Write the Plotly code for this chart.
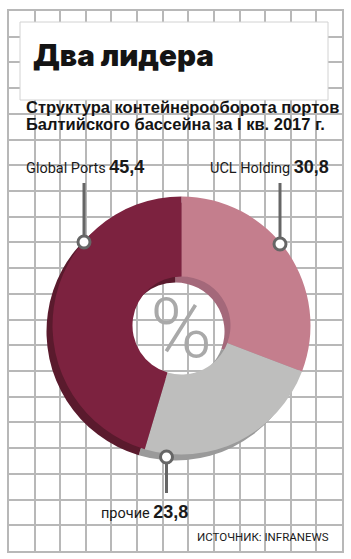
import plotly.graph_objects as go

# ---- data ----
labels = ["UCL Holding", "прочие", "Global Ports"]   # clockwise from 12 o'clock
values = [30.8, 23.8, 45.4]
colors = ["#C47E8D", "#BEBEBD", "#7C223F"]
shadow_colors = ["#A4687A", "#9A9A9A", "#5A1A2D"]

title_text = "Два лидера"
subtitle_lines = ["Структура контейнерооборота портов",
                  "Балтийского бассейна за I кв. 2017 г."]
source_text = "ИСТОЧНИК: INFRANEWS"
center_text = "%"

W, H = 351, 559


def px(x):
    return x / W


def py(y):
    return 1 - y / H


def fmt(v):
    return f"{v:.1f}".replace(".", ",")


NARROW = "Roboto, DejaVu Sans Condensed, sans-serif"
BOLD = "Liberation Sans, Arial, sans-serif"

fig = go.Figure()

# invisible trace so the cartesian grid (background) is drawn
fig.add_trace(go.Scatter(x=[None], y=[None], mode="markers", showlegend=False, hoverinfo="skip"))

# pie geometry (pixels)
cx, cy, r = 181.5, 325.5, 129
sdx, sdy = -6, 6
hole = 0.38


def dom(cx_, cy_):
    return dict(x=[px(cx_ - r), px(cx_ + r)], y=[py(cy_ + r), py(cy_ - r)])


# shadow / 3D edge
fig.add_trace(go.Pie(labels=labels, values=values, sort=False, direction="clockwise",
                     rotation=0, hole=hole, marker=dict(colors=shadow_colors, line=dict(width=0)),
                     textinfo="none", hoverinfo="skip", showlegend=False,
                     domain=dom(cx + sdx, cy + sdy)))
# main donut
fig.add_trace(go.Pie(labels=labels, values=values, sort=False, direction="clockwise",
                     rotation=0, hole=hole, marker=dict(colors=colors, line=dict(width=0)),
                     textinfo="none", showlegend=False,
                     domain=dom(cx, cy)))

grid_color = "#B8B8B8"
fig.update_layout(
    width=W, height=H, margin=dict(l=0, r=0, t=0, b=0),
    paper_bgcolor="white", plot_bgcolor="white", showlegend=False,
    xaxis=dict(domain=[px(9), px(342)], range=[0, 13], tick0=0, dtick=1,
               showgrid=True, gridcolor=grid_color, gridwidth=1.5,
               showline=True, linecolor=grid_color, linewidth=1.5, mirror=True,
               showticklabels=False, ticks="", zeroline=False, fixedrange=True),
    yaxis=dict(domain=[py(551), py(11)], range=[0, 21], tick0=0, dtick=1,
               showgrid=True, gridcolor=grid_color, gridwidth=1.5,
               showline=True, linecolor=grid_color, linewidth=1.5, mirror=True,
               showticklabels=False, ticks="", zeroline=False, fixedrange=True),
)

shapes = []
# title box
shapes.append(dict(type="rect", xref="paper", yref="paper", x0=px(20), x1=px(328),
                   y0=py(100), y1=py(22), fillcolor="white",
                   line=dict(color="#D2D2D2", width=1), layer="above"))

# callouts: (x, y_circle, y_end)
line_col = "#666666"
callouts = [(84, 242, 183), (280, 244, 183), (166.5, 457, 493)]
for (x, yc, ye) in callouts:
    shapes.append(dict(type="line", xref="paper", yref="paper", x0=px(x), x1=px(x),
                       y0=py(yc), y1=py(ye), line=dict(color=line_col, width=3), layer="above"))
for (x, yc, ye) in callouts:
    rr = 6
    shapes.append(dict(type="circle", xref="paper", yref="paper",
                       x0=px(x - rr), x1=px(x + rr), y0=py(yc + rr), y1=py(yc - rr),
                       fillcolor="white", line=dict(color=line_col, width=3), layer="above"))
fig.update_layout(shapes=shapes)

ann = []
ann.append(dict(text=title_text, x=px(31), y=py(55), xref="paper", yref="paper",
                xanchor="left", yanchor="middle", showarrow=False,
                font=dict(family="Inter, Roboto, DejaVu Sans", size=29.5, color="#141414", weight=900)))
for i, t in enumerate(subtitle_lines):
    ann.append(dict(text=f"<b>{t}</b>", x=px(24), y=py(107 + 17 * i), xref="paper", yref="paper",
                    xanchor="left", yanchor="middle", showarrow=False,
                    font=dict(family=BOLD, size=16.5, color="#141414")))


def label(name, val):
    return (f"{name} <b><span style='font-family:Liberation Sans, Arial, sans-serif;font-size:18px'>"
            f"{fmt(val)}</span></b>")


lab = dict(zip(labels, values))
LFONT = dict(family=NARROW, size=14.5, color="#1A1A1A")
ann.append(dict(text=label("Global Ports", lab["Global Ports"]), x=px(24), y=py(167),
                xref="paper", yref="paper", xanchor="left", yanchor="middle", showarrow=False,
                font=LFONT))
ann.append(dict(text=label("UCL Holding", lab["UCL Holding"]), x=px(331), y=py(167),
                xref="paper", yref="paper", xanchor="right", yanchor="middle", showarrow=False,
                font=LFONT))
ann.append(dict(text=label("прочие", lab["прочие"]), x=px(144), y=py(512),
                xref="paper", yref="paper", xanchor="center", yanchor="middle", showarrow=False,
                font=LFONT))
ann.append(dict(text=source_text, x=px(331), y=py(537),
                xref="paper", yref="paper", xanchor="right", yanchor="middle", showarrow=False,
                font=dict(family=NARROW, size=11.5, color="#1A1A1A")))
ann.append(dict(text=center_text, x=px(181), y=py(328),
                xref="paper", yref="paper", xanchor="center", yanchor="middle", showarrow=False,
                font=dict(family="Roboto, Open Sans, sans-serif", size=84, color="#A9A9A9", weight=300)))
fig.update_layout(annotations=ann)

fig.write_html("out.html")
